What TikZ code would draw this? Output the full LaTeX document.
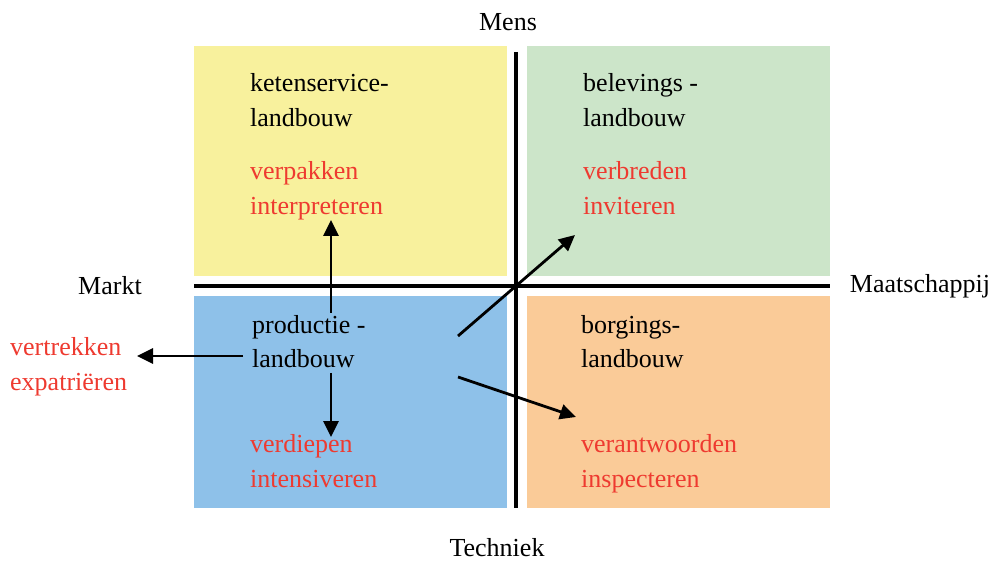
\documentclass[tikz,border=0pt]{standalone}
\usepackage{fontspec}
\setmainfont{Liberation Serif}
\usepackage{tikz}
\usetikzlibrary{arrows.meta}
\definecolor{geel}{RGB}{248,241,157}
\definecolor{groen}{RGB}{204,229,201}
\definecolor{blauw}{RGB}{142,193,233}
\definecolor{oranje}{RGB}{250,203,152}
\definecolor{rood}{RGB}{238,58,48}
\tikzset{every node/.style={inner sep=0pt, font=\fontsize{26}{35}\selectfont}}
\tikzset{blok/.style={anchor=base west, align=left}}
\tikzset{actie/.style={blok, text=rood}}
\tikzset{as/.style={line width=4pt}}
\tikzset{pijl/.style={line width=2.8pt, -{Triangle[length=16pt,width=15pt]}}}

\begin{document}
\begin{tikzpicture}[x=1pt,y=-1pt]
		\useasboundingbox (0,0) rectangle (991,561);
		\fill[geel] (194,46) rectangle (507,276);
		\fill[groen] (527,46) rectangle (830,276);
		\fill[blauw] (194,296) rectangle (507,508);
		\fill[oranje] (527,296) rectangle (830,508);
		\draw[as] (516,52) -- (516,508);
		\draw[as] (194,286) -- (830,286);
		\node (mens) at (508,22) {Mens};
		\node (techniek) at (497,548) {Techniek};
		\node (markt) at (110,286) {Markt};
		\node (maatschappij) at (920,286) {Maatschappij};
		\node[blok] (keten) at (250,127) {ketenservice-\\landbouw};
		\node[actie] (verpakken) at (250,215) {verpakken\\interpreteren};
		\node[blok] (beleving) at (583,127) {belevings -\\landbouw};
		\node[actie] (verbreden) at (583,215) {verbreden\\inviteren};
		\node[blok] (productie) at (252,368) {productie -\\landbouw};
		\node[actie] (verdiepen) at (250,487) {verdiepen\\intensiveren};
		\node[blok] (borging) at (581,368) {borgings-\\landbouw};
		\node[actie] (verantwoorden) at (581,487) {verantwoorden\\inspecteren};
		\node[actie] (vertrekken) at (10,390) {vertrekken\\expatri\"eren};
		\coordinate (pboven) at (331,313);
		\coordinate (ponder) at (331,373);
		\coordinate (plinks) at (243,356);
		\coordinate (prechtsboven) at (458,336);
		\coordinate (prechtsonder) at (458,377);
		\coordinate (dboven) at (331,220);
		\coordinate (donder) at (331,437);
		\coordinate (dlinks) at (137,356);
		\coordinate (dbeleving) at (575,235);
		\coordinate (dborging) at (576,417);
		\draw[pijl] (pboven) -- (dboven);
		\draw[pijl] (ponder) -- (donder);
		\draw[pijl] (plinks) -- (dlinks);
		\draw[pijl] (prechtsboven) -- (dbeleving);
		\draw[pijl] (prechtsonder) -- (dborging);
\end{tikzpicture}
\end{document}
